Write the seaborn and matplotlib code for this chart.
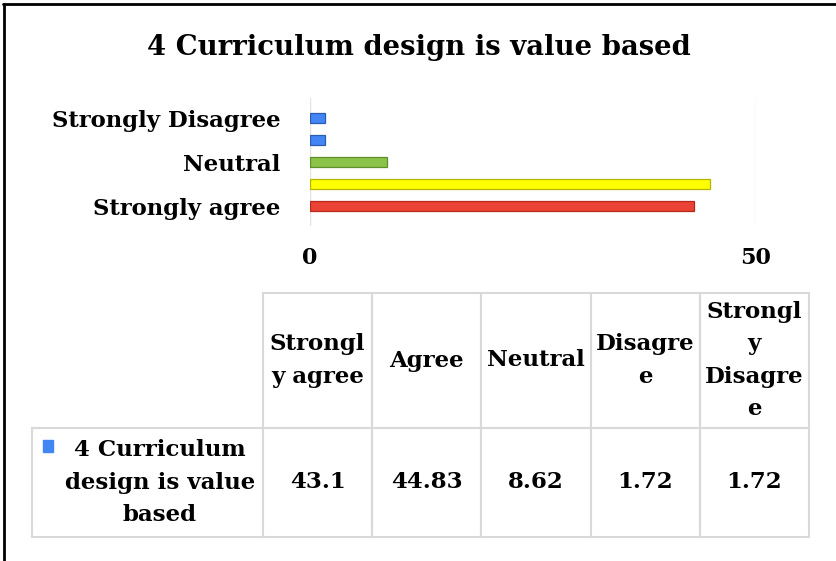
import numpy as np
import pandas as pd
import matplotlib
matplotlib.use("Agg")
import matplotlib.pyplot as plt
import seaborn as sns
from matplotlib.patches import Rectangle


sns.set_style("white")
plt.rcParams['font.family'] = ['DejaVu Serif']
plt.rcParams['font.weight'] = 'bold'
plt.rcParams['text.color'] = 'black'
plt.rcParams['xtick.color'] = 'black'
plt.rcParams['ytick.color'] = 'black'

title = "4 Curriculum design is value based"
categories = ['Strongly agree', 'Agree', 'Neutral', 'Disagree', 'Strongly Disagree']
values = [43.1, 44.83, 8.62, 1.72, 1.72]
bar_colors = ['#EA4335', '#FFFF00', '#8BC34A', '#4285F4', '#4285F4']
edge_colors = ['#B8281C', '#B5B500', '#5E8F2A', '#2A5DB0', '#2A5DB0']
header_labels = ['Strongl\ny agree', 'Agree', 'Neutral', 'Disagre\ne', 'Strongl\ny\nDisagre\ne']
row_label = "4 Curriculum\ndesign is value\nbased"
value_text = ['43.1', '44.83', '8.62', '1.72', '1.72']
xticks = [0, 50]

#-------------------------------------------------

W, H = 836, 561
fig = plt.figure(figsize=(W/100, H/100), dpi=100)

# bar chart, top category drawn first
df = pd.DataFrame({"cat": categories, "val": values, "col": bar_colors, "edge": edge_colors})
df = df.iloc[::-1].reset_index(drop=True)

ax = fig.add_axes([310/W, 1 - 225.8/H, 446/W, 127.6/H])
sns.barplot(data=df, x="val", y="cat", hue="cat", palette=list(df["col"]),
            orient="h", width=0.43, legend=False, ax=ax, saturation=1,
            linewidth=0.9)
for patch, ec in zip(ax.patches, df["edge"]):
    patch.set_edgecolor(ec)

ax.set_xlim(0, 50)
ax.set_ylim(4.9, -0.9)
ax.set_xticks(xticks)
ax.set_xticklabels([str(t) for t in xticks], fontsize=16, fontweight='bold')
# only every other category gets a label, like the original
ylabs = [c if i % 2 == 0 else '' for i, c in enumerate(df["cat"])]
ax.set_yticks(range(len(ylabs)))
ax.set_yticklabels(ylabs, fontsize=16.4, fontweight='bold')
ax.tick_params(axis='x', length=0, pad=15.5)
ax.tick_params(axis='y', length=0, pad=21)
ax.set_xlabel("")
ax.set_ylabel("")
ax.grid(axis='x', color='#E3E3E3', linewidth=1)
ax.set_axisbelow(True)
for s in ax.spines.values():
    s.set_visible(False)

fig.text(419/W, 1 - 47.5/H, title, ha='center', va='center',
         fontsize=19.8, fontweight='bold')

# data table ---------------------------------------

tx0, tx1 = 32, 809
tax = fig.add_axes([tx0/W, 1 - 537/H, (tx1 - tx0)/W, (537 - 293)/H])
tax.axis('off')
tbl = tax.table(cellText=[[row_label] + value_text], colLabels=[''] + header_labels,
                cellLoc='center', colLoc='center', bbox=[0, 0, 1, 1])
tbl.auto_set_font_size(False)
tbl.set_fontsize(16.5)

for (r, c), cell in tbl.get_celld().items():
    cell.set_edgecolor('#D9D9D9')
    cell.set_linewidth(1.5)
    txt = cell.get_text()
    txt.set_fontweight('bold')
    txt.set_multialignment('center')
    txt.set_linespacing(1.6)
    cell.set_width(231.0 if c == 0 else 109.2)
    cell.set_height(135.0 if r == 0 else 109.0)

tbl[0, 0].visible_edges = ''
tbl[1, 0].get_text().set_horizontalalignment('right')
tbl[1, 0].PAD = 0.035

# legend key in the row header
fig.patches.append(Rectangle((43/W, 1 - 452/H), 10/W, 12/H,
                             transform=fig.transFigure, color='#4285F4'))

# frame lines (top + left) like the cropped screenshot
fig.add_artist(plt.Line2D([0.004, 1], [1 - 4/H, 1 - 4/H], transform=fig.transFigure,
                          color='black', linewidth=2))
fig.add_artist(plt.Line2D([4/W, 4/W], [0, 1 - 4/H], transform=fig.transFigure,
                          color='black', linewidth=2))

fig.savefig("out.png", dpi=100)
